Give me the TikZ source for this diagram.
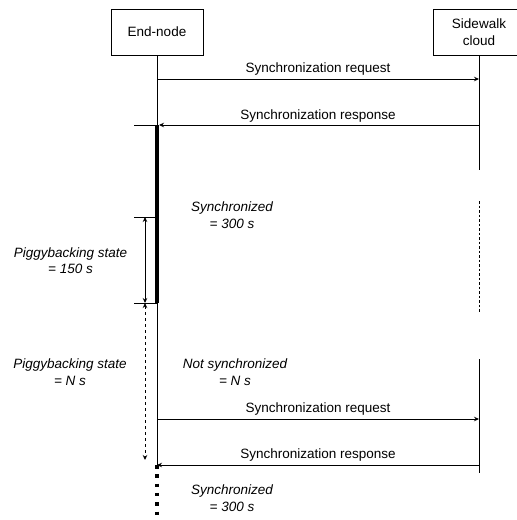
\documentclass[tikz,border=0pt]{standalone}
\usepackage{fontspec}
\setmainfont{Liberation Sans}
\usetikzlibrary{arrows.meta}
\begin{document}
\begin{tikzpicture}[x=1pt,y=-1pt,
  ln/.style={line width=1pt},
  box/.style={draw, line width=1pt, minimum width=92pt, minimum height=46pt, inner sep=0pt, align=center, font=\fontsize{13.5}{16.5}\selectfont},
  lbl/.style={font=\fontsize{13.5}{16}\selectfont, inner sep=0pt},
  ilbl/.style={font=\fontsize{13.5}{16.5}\selectfont\itshape, align=center, inner sep=0pt},
  msg/.style={ln, -{Stealth[length=5pt,width=4.5pt]}},
  span/.style={ln, {Stealth[length=5pt,width=4.5pt]}-{Stealth[length=5pt,width=4.5pt]}},
]
\useasboundingbox (0,0) rectangle (517,520);
% participants
\node[box] (en) at (157,32) {End-node};
\node[box] (sc) at (479,32) {Sidewalk\\cloud};
% coordinates
\coordinate (eR1) at (157,79);
\coordinate (sR1) at (479,79);
\coordinate (eS1) at (157,125);
\coordinate (sS1) at (479,125);
\coordinate (lS1) at (134,125);
\coordinate (eT) at (157,217);
\coordinate (lT) at (134,217);
\coordinate (bT) at (145,217);
\coordinate (eB) at (157,303);
\coordinate (lB) at (134,303);
\coordinate (bB) at (145,303);
\coordinate (bN) at (145,460);
\coordinate (eR2) at (157,419);
\coordinate (sR2) at (479,419);
\coordinate (eS2) at (157,465);
\coordinate (sS2) at (479,465);
\coordinate (eEnd) at (157,522);
\coordinate (sA) at (479,170);
\coordinate (sD1) at (479,201);
\coordinate (sD2) at (479,313);
\coordinate (sC1) at (479,359);
\coordinate (sC2) at (479,473);
% lifelines
\draw[ln] (en.south) -- (eS2);
\draw[ln] (sc.south) -- (sA);
\draw[ln, dash pattern=on 2.5pt off 2pt] (sD1) -- (sD2);
\draw[ln] (sC1) -- (sC2);
% activation bars
\draw[line width=4pt] (eS1) -- (eB);
\draw[line width=4.5pt, dash pattern=on 3.5pt off 5.8pt] (eS2) -- (eEnd);
% messages
\draw[msg] (eR1) -- (sR1);
\draw[msg, shorten >=2pt] (sS1) -- (eS1);
\draw[ln] (lS1) -- (eS1);
\draw[msg] (eR2) -- (sR2);
\draw[msg] (sS2) -- (eS2);
\node[lbl, anchor=base] (rq1) at (318,72) {Synchronization request};
\node[lbl, anchor=base] (rs1) at (318,119) {Synchronization response};
\node[lbl, anchor=base] (rq2) at (318,412) {Synchronization request};
\node[lbl, anchor=base] (rs2) at (318,458) {Synchronization response};
% piggybacking brackets
\draw[ln] (lT) -- (eT);
\draw[ln] (lB) -- (eB);
\draw[span] (bT) -- (bB);
\draw[span, dash pattern=on 3pt off 3pt] (bB) -- (bN);
% state labels
\node[ilbl] (sy1) at (232,215) {Synchronized\\= 300 s};
\node[ilbl] (pb1) at (70.5,260.5) {Piggybacking state\\= 150 s};
\node[ilbl] (pb2) at (70,372) {Piggybacking state\\= N s};
\node[ilbl] (ns) at (235,372) {Not synchronized\\= N s};
\node[ilbl] (sy2) at (232,498) {Synchronized\\= 300 s};
\end{tikzpicture}
\end{document}
